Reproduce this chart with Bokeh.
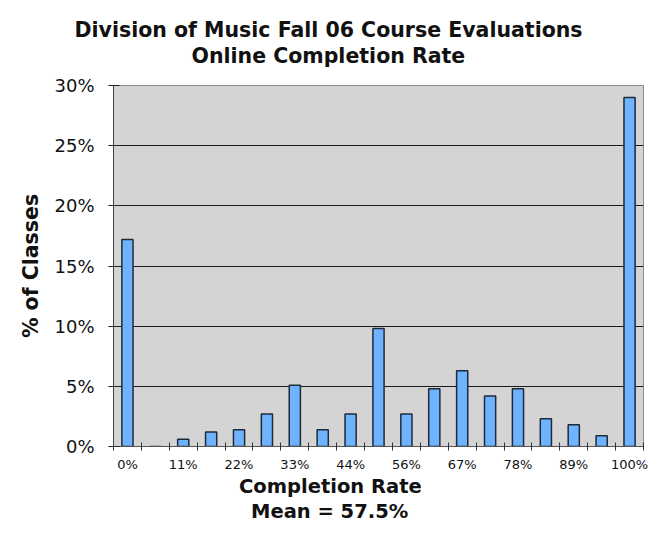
from bokeh.plotting import figure
from bokeh.models import FixedTicker, Title, Range1d, ColumnDataSource
from bokeh.embed import file_html
from bokeh.resources import INLINE

# ---- data ----
bin_index = list(range(19))  # 19 completion-rate bins, 0% .. 100%
pct_classes = [17.2, 0.0, 0.6, 1.2, 1.4, 2.7, 5.1, 1.4, 2.7, 9.8,
               2.7, 4.8, 6.3, 4.2, 4.8, 2.3, 1.8, 0.9, 29.0]
x_tick_labels = ["0%", "11%", "22%", "33%", "44%", "56%", "67%", "78%", "89%", "100%"]
x_tick_bins = [0, 2, 4, 6, 8, 10, 12, 14, 16, 18]
y_ticks = [0, 5, 10, 15, 20, 25, 30]
y_tick_labels = ["0%", "5%", "10%", "15%", "20%", "25%", "30%"]

title_lines = ["Division of Music Fall 06 Course Evaluations", "Online Completion Rate"]
x_label_lines = ["Completion Rate", "Mean = 57.5%"]
y_label = "% of Classes"

FONT = "DejaVu Sans"

src = ColumnDataSource(dict(x=bin_index, top=pct_classes))

p = figure(width=662, height=532,
           x_range=Range1d(-0.5, 18.5), y_range=Range1d(0, 30),
           output_backend="svg", toolbar_location=None,
           min_border_left=113, min_border_right=19,
           min_border_top=85, min_border_bottom=86,
           background_fill_color="#d4d4d4", border_fill_color="white",
           outline_line_color="#8c8c8c", outline_line_width=1)
p.title = None

p.vbar(x="x", top="top", width=0.4, bottom=0, source=src,
       fill_color="#6fb3ff", line_color="#1e2a38", line_width=1.5)

# x axis
xa = p.xaxis[0]
xa.ticker = FixedTicker(ticks=x_tick_bins, minor_ticks=[i - 0.5 for i in range(20)])
xa.major_label_overrides = {b: l for b, l in zip(x_tick_bins, x_tick_labels)}
xa.major_tick_line_color = None
xa.major_tick_in = 0
xa.major_tick_out = 0
xa.minor_tick_in = 4
xa.minor_tick_out = 4
xa.minor_tick_line_color = "#333333"
xa.axis_line_color = "#555555"
xa.major_label_text_font = FONT
xa.major_label_text_font_size = "13px"
xa.major_label_text_color = "#111111"
xa.major_label_standoff = 6

# y axis
ya = p.yaxis[0]
ya.ticker = FixedTicker(ticks=y_ticks)
ya.major_label_overrides = {t: l for t, l in zip(y_ticks, y_tick_labels)}
ya.major_tick_in = 6
ya.major_tick_out = 5
ya.major_tick_line_color = "#222222"
ya.minor_tick_line_color = None
ya.axis_line_color = "#444444"
ya.major_label_text_font = FONT
ya.major_label_text_font_size = "18px"
ya.major_label_text_color = "#111111"
ya.major_label_standoff = 14
ya.axis_label = y_label
ya.axis_label_text_font = FONT
ya.axis_label_text_font_style = "bold"
ya.axis_label_text_font_size = "20.5px"
ya.axis_label_text_color = "#111111"
ya.axis_label_standoff = 8

p.xgrid.visible = False
p.ygrid.ticker = FixedTicker(ticks=[5, 10, 15, 20, 25])
p.ygrid.grid_line_color = "#1a1a1a"
p.ygrid.grid_line_width = 1

def bold_title(txt, offset, size, standoff, valign="bottom"):
    return Title(text=txt, align="left", offset=offset, vertical_align=valign,
                 text_font=FONT, text_font_size=size, text_font_style="bold",
                 text_color="#111111", standoff=standoff)

# above: spacer closest to the frame, then line 2, then line 1
p.add_layout(Title(text=" ", text_font_size="1px", standoff=15), "above")
p.add_layout(bold_title(title_lines[1], 78, "20.5px", 0), "above")
p.add_layout(bold_title(title_lines[0], -39, "20.5px", 0), "above")

# below: x-axis label lines
p.add_layout(bold_title(x_label_lines[0], 125.5, "19.5px", 0, "top"), "below")
p.add_layout(bold_title(x_label_lines[1], 137.5, "19.5px", 0, "top"), "below")

open("out.html", "w").write(file_html(p, INLINE))
